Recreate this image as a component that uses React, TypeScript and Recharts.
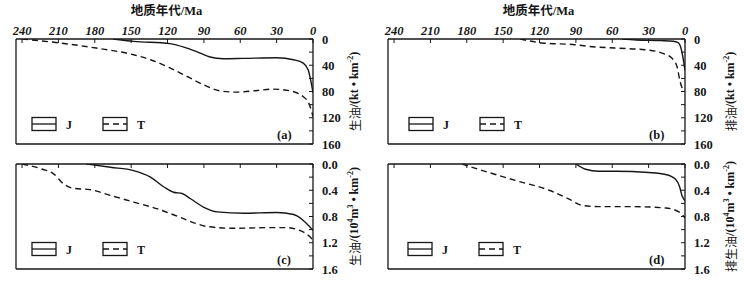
import { LineChart, Line, XAxis, YAxis, ReferenceLine, Legend } from 'recharts';

const ink = '#161616';
const serif = "'Liberation Serif', 'Times New Roman', 'Noto Sans CJK SC', serif";
const cjk = "'Noto Sans CJK SC', 'Liberation Serif', sans-serif";

// 地质年代 (Ma), 刻度
const ageTicks = [0, 30, 60, 90, 120, 150, 180, 210, 240];
const massTicks = [0, 20, 40, 60, 80, 100, 120, 140, 160];
const volTicks = [0, 0.2, 0.4, 0.6, 0.8, 1.0, 1.2, 1.4, 1.6];

// (a) 生油 kt/km2
const genMassJ = [
    { age: 165, value: 0 }, { age: 148, value: 3.6 }, { age: 118, value: 7 },
    { age: 104, value: 14 }, { age: 93, value: 21.5 }, { age: 85, value: 27.5 },
    { age: 74, value: 30 }, { age: 58, value: 29.6 }, { age: 30, value: 28.6 },
    { age: 16, value: 31.6 }, { age: 8, value: 36.7 }, { age: 4, value: 47 },
    { age: 2, value: 62 }, { age: 0, value: 82 },
];
const genMassT = [
    { age: 240, value: 0 }, { age: 209, value: 6 }, { age: 179, value: 13.8 },
    { age: 148, value: 24 }, { age: 134, value: 31.6 }, { age: 118, value: 44 },
    { age: 104, value: 57 }, { age: 90, value: 70 }, { age: 77, value: 79 },
    { age: 63, value: 81 }, { age: 46, value: 78.5 }, { age: 33, value: 76.4 },
    { age: 19, value: 79 }, { age: 8, value: 88 }, { age: 3, value: 100 },
    { age: 0, value: 118 },
];

// (b) 排油 kt/km2
const expMassJ = [
    { age: 52, value: 0 }, { age: 40, value: 1.5 }, { age: 20, value: 2.5 },
    { age: 10, value: 3.5 }, { age: 6, value: 5 }, { age: 4, value: 10 },
    { age: 2, value: 25 }, { age: 0, value: 48 },
];
const expMassT = [
    { age: 136, value: 0 }, { age: 118, value: 6 }, { age: 91, value: 8.7 },
    { age: 79, value: 11.3 }, { age: 58, value: 13.8 }, { age: 33, value: 16.4 },
    { age: 19, value: 21.4 }, { age: 11, value: 29 }, { age: 6.6, value: 42 },
    { age: 4.4, value: 62 }, { age: 2.5, value: 74 }, { age: 0, value: 80 },
];

// (c) 生油 10^4 m3/km2
const genVolJ = [
    { age: 187, value: 0 }, { age: 167, value: 0.05 }, { age: 148, value: 0.1 },
    { age: 134, value: 0.2 }, { age: 123, value: 0.35 }, { age: 115, value: 0.43 },
    { age: 108, value: 0.45 }, { age: 101, value: 0.53 }, { age: 90, value: 0.66 },
    { age: 79, value: 0.73 }, { age: 57, value: 0.75 }, { age: 30, value: 0.74 },
    { age: 16, value: 0.77 }, { age: 8, value: 0.86 }, { age: 2.5, value: 0.96 },
    { age: 0, value: 1.01 },
];
const genVolT = [
    { age: 240, value: 0 }, { age: 223, value: 0.08 }, { age: 214, value: 0.15 },
    { age: 206, value: 0.3 }, { age: 198, value: 0.37 }, { age: 184, value: 0.39 },
    { age: 167, value: 0.48 }, { age: 148, value: 0.58 }, { age: 129, value: 0.68 },
    { age: 110, value: 0.81 }, { age: 96, value: 0.91 }, { age: 88, value: 0.95 },
    { age: 66, value: 0.98 }, { age: 38, value: 0.97 }, { age: 22, value: 0.97 },
    { age: 11, value: 1.01 }, { age: 2.5, value: 1.11 }, { age: 0, value: 1.16 },
];

// (d) 排生油 10^4 m3/km2
const expVolJ = [
    { age: 90, value: 0 }, { age: 82, value: 0.08 }, { age: 71, value: 0.11 },
    { age: 57, value: 0.11 }, { age: 30, value: 0.13 }, { age: 16, value: 0.16 },
    { age: 8, value: 0.23 }, { age: 4.4, value: 0.35 }, { age: 2.5, value: 0.48 },
    { age: 0, value: 0.56 },
];
const expVolT = [
    { age: 184, value: 0 }, { age: 167, value: 0.1 }, { age: 140, value: 0.25 },
    { age: 112, value: 0.4 }, { age: 96, value: 0.53 }, { age: 85, value: 0.63 },
    { age: 71, value: 0.65 }, { age: 44, value: 0.65 }, { age: 16, value: 0.67 },
    { age: 5, value: 0.73 }, { age: 1, value: 0.8 }, { age: 0, value: 0.82 },
];

const AgeTick = ({ x, y, payload, showLabel }: any) => (
    <g>
        <line x1={x} x2={x} y1={y} y2={y + 4} stroke={ink} strokeWidth={1} />
        {showLabel && (
            <text x={x} y={y - 4} textAnchor="middle" fontSize={12.5} fill={ink}
                style={{ fontFamily: serif, fontWeight: 'bold', fontStyle: 'italic' }}>
                {payload.value}
            </text>
        )}
    </g>
);

const ValueTick = ({ x, y, payload, index, digits }: any) => (
    <g>
        <line x1={x - 4} x2={x} y1={y} y2={y} stroke={ink} strokeWidth={1} />
        {index % 2 === 0 && (
            <text x={x + 9} y={y + 4.5} textAnchor="start" fontSize={12.5} fill={ink}
                style={{ fontFamily: serif, fontWeight: 'bold' }}>
                {Number(payload.value).toFixed(digits)}
            </text>
        )}
    </g>
);

const AgeTitle = ({ viewBox }: any) => {
    const vb = viewBox || { x: 16, y: 0, width: 297 };
    return (
        <text x={vb.x + vb.width / 2 + 2} y={vb.y + 15} textAnchor="middle" fontSize={12.5} fill={ink}
            style={{ fontFamily: serif, fontWeight: 'bold' }}>
            地质年代/Ma
        </text>
    );
};

const UnitTitle = ({ viewBox, name, base, offset }: any) => {
    const vb = viewBox || { x: 313, y: 39, height: 105 };
    const cx = vb.x + offset;
    const cy = vb.y + vb.height / 2;
    return (
        <text x={cx} y={cy} transform={`rotate(-90, ${cx}, ${cy})`} textAnchor="middle"
            dominantBaseline="central" fontSize={12} fill={ink}
            style={{ fontFamily: serif, fontWeight: 'bold' }}>
            <tspan style={{ fontFamily: cjk, fontWeight: 'normal' }}>{name}</tspan>
            <tspan>/(</tspan>
            {base}
            <tspan>km</tspan>
            <tspan dy={-4} fontSize={8}>-2</tspan>
            <tspan dy={4}>)</tspan>
        </text>
    );
};

const BoxLegend = ({ payload, x0, letter }: any) => (
    <svg width={372} height={30} style={{ display: 'block' }}>
        {(payload || []).map((entry: any, i: number) => {
            const bx = x0 + i * 71;
            return (
                <g key={entry.value}>
                    <rect x={bx} y={1.5} width={24} height={13} fill="none" stroke={ink} strokeWidth={1.3} />
                    <line x1={bx} x2={bx + 24} y1={8} y2={8} stroke={ink} strokeWidth={1.3}
                        strokeDasharray={entry.payload?.strokeDasharray} />
                    <text x={bx + 34} y={12.5} fontSize={12} fill={ink}
                        style={{ fontFamily: serif, fontWeight: 'bold' }}>
                        {entry.value}
                    </text>
                </g>
            );
        })}
        <text x={277} y={23} fontSize={12.5} fill={ink} style={{ fontFamily: serif, fontWeight: 'bold' }}>
            ({letter})
        </text>
    </svg>
);

interface PanelProps {
    left: number;
    top: number;
    upper: boolean;
    seriesJ: { age: number; value: number }[];
    seriesT: { age: number; value: number }[];
    ticks: number[];
    max: number;
    digits: number;
    name: string;
    base: any;
    labelOffset: number;
    legendX: number;
    letter: string;
}

function Panel({ left, top, upper, seriesJ, seriesT, ticks, max, digits, name, base, labelOffset, legendX, letter }: PanelProps) {
    const height = upper ? 150 : 134;
    return (
        <div style={{ position: 'absolute', left, top }}>
            <LineChart width={372} height={height} margin={{ top: 0, right: 0, bottom: upper ? 6 : 15, left: 16 }}>
                <XAxis
                    dataKey="age"
                    type="number"
                    orientation="top"
                    domain={[0, 245]}
                    reversed
                    allowDataOverflow
                    ticks={ageTicks}
                    interval={0}
                    height={upper ? 39 : 14}
                    tickSize={0}
                    tickMargin={0}
                    tickLine={false}
                    axisLine={{ stroke: ink, strokeWidth: 1.3 }}
                    tick={<AgeTick showLabel={upper} />}
                    label={upper ? { content: (p: any) => <AgeTitle {...p} /> } : undefined}
                />
                <YAxis
                    dataKey="value"
                    type="number"
                    orientation="right"
                    domain={[0, max]}
                    reversed
                    allowDataOverflow
                    ticks={ticks}
                    interval={0}
                    width={59}
                    tickSize={0}
                    tickMargin={0}
                    tickLine={false}
                    axisLine={{ stroke: ink, strokeWidth: 1.3 }}
                    tick={<ValueTick digits={digits} />}
                    label={{ content: (p: any) => <UnitTitle {...p} name={name} base={base} offset={labelOffset} /> }}
                />
                <ReferenceLine x={245} stroke={ink} strokeWidth={1.3} />
                <ReferenceLine y={max} stroke={ink} strokeWidth={1.3} />
                <Legend
                    verticalAlign="middle"
                    align="center"
                    width={372}
                    wrapperStyle={{ left: 0, top: upper ? 116 : 91, width: 372, height: 30 }}
                    content={(p: any) => <BoxLegend {...p} x0={legendX} letter={letter} />}
                />
                <Line data={seriesJ} dataKey="value" name="J" type="monotone" stroke={ink}
                    strokeWidth={1.4} dot={false} activeDot={false} isAnimationActive={false} />
                <Line data={seriesT} dataKey="value" name="T" type="monotone" stroke={ink}
                    strokeWidth={1.4} strokeDasharray="6 4" dot={false} activeDot={false} isAnimationActive={false} />
            </LineChart>
        </div>
    );
}

const massUnit = (
    <>
        <tspan>kt • </tspan>
    </>
);
const volUnit = (
    <>
        <tspan>10</tspan>
        <tspan dy={-4} fontSize={8}>4</tspan>
        <tspan dy={4}>m</tspan>
        <tspan dy={-4} fontSize={8}>3</tspan>
        <tspan dy={4}> • </tspan>
    </>
);

export default function App() {
    return (
        <div style={{ position: 'absolute', left: 0, top: 0, width: 745, height: 284, background: '#fff' }}>
            <Panel left={0} top={0} upper seriesJ={genMassJ} seriesT={genMassT} ticks={massTicks}
                max={160} digits={0} name="生油" base={massUnit} labelOffset={41} legendX={32} letter="a" />
            <Panel left={372} top={0} upper seriesJ={expMassJ} seriesT={expMassT} ticks={massTicks}
                max={160} digits={0} name="排油" base={massUnit} labelOffset={45} legendX={37} letter="b" />
            <Panel left={0} top={150} upper={false} seriesJ={genVolJ} seriesT={genVolT} ticks={volTicks}
                max={1.6} digits={1} name="生油" base={volUnit} labelOffset={41} legendX={32} letter="c" />
            <Panel left={372} top={150} upper={false} seriesJ={expVolJ} seriesT={expVolT} ticks={volTicks}
                max={1.6} digits={1} name="排生油" base={volUnit} labelOffset={45} legendX={36} letter="d" />
        </div>
    );
}
